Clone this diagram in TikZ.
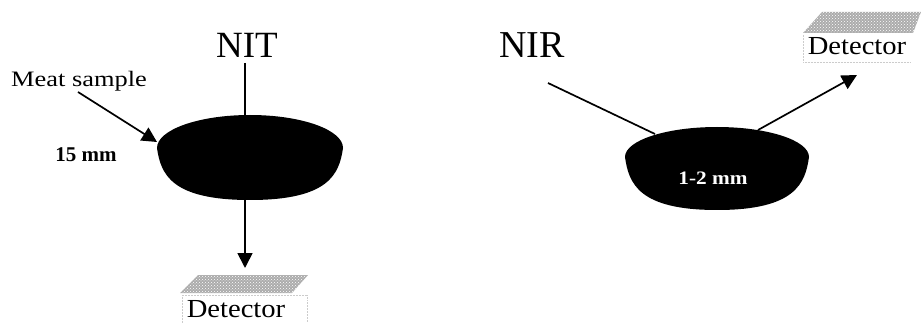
\documentclass[tikz,border=0pt]{standalone}
\usepackage{fontspec}
\setmainfont{Liberation Serif}
\usetikzlibrary{arrows.meta,patterns}

\tikzset{
  beam/.style={line width=1.7pt},
  ray/.style={beam,-{Triangle[length=15pt,width=15pt]}},
  sample/.style={fill=black},
  plate/.style={fill=gray!65, postaction={pattern=crosshatch dots, pattern color=white}},
  txt/.style={inner sep=0pt, anchor=base},
  detlabel/.style={txt, font=\fontsize{26}{26}\selectfont},
  detframe/.style={draw=gray!40, densely dotted, line width=0.5pt},
}

% sample disc: upper half ellipse over a rounded, slightly narrower bottom
% #1 = centre x, #2 = widest-line y, #3 = half width, #4 = top rise, #5 = bottom drop
\newcommand{\sampledisc}[5]{%
  \fill[sample] (#1-#3,#2) arc[start angle=180, end angle=360, x radius=#3, y radius=#4]
    .. controls (#1+0.96*#3,#2+0.5*#5) and (#1+0.85*#3,#2+#5) .. (#1,#2+#5)
    .. controls (#1-0.85*#3,#2+#5) and (#1-0.96*#3,#2+0.5*#5) .. cycle;}

\begin{document}
\begin{tikzpicture}[x=1pt,y=-1pt]
  \useasboundingbox (0,0) rectangle (921,323);

  % ---------- transmission (NIT) ----------
  \node[txt, font=\fontsize{37}{37}\selectfont] (nit) at (247,58) {NIT};
  \node[txt, anchor=base west, font=\fontsize{22}{22}\selectfont] (meat) at (11,87)
       {\scalebox{1.2}[1]{Meat sample}};
  \node[txt, font=\bfseries\fontsize{21}{21}\selectfont] (thick) at (86,162) {15 mm};

  % thick sample disc
  \sampledisc{250}{148}{93}{33}{52}
  \coordinate (discLtop) at (245,115);
  \coordinate (discLbot) at (245,200);
  \coordinate (discLedge) at (157,142);

  % detector below the sample
  \fill[plate] (198,275) -- (308,275) -- (292,293) -- (180,293) -- cycle;
  \node[detlabel] (detL) at (236,317) {\scalebox{1.1}[1]{Detector}};
  \draw[detframe] (182,295) rectangle (307,323);
  \coordinate (detLin) at (245,268);

  \coordinate (nitIn) at (245,63);
  \coordinate (meatTail) at (78,92);
  \draw[beam] (nitIn) -- (discLtop);
  \draw[ray] (discLbot) -- (detLin);
  \draw[ray] (meatTail) -- (discLedge);

  % ---------- reflectance (NIR) ----------
  \node[txt, font=\fontsize{38}{38}\selectfont] (nir) at (532,58) {NIR};

  % thin sample disc
  \sampledisc{717}{157}{92}{30}{53}
  \node[txt, text=white, font=\bfseries\fontsize{19}{19}\selectfont] (thin) at (713,185)
       {\scalebox{1.12}[1]{1-2 mm}};
  \coordinate (discRin) at (655,134);
  \coordinate (discRout) at (758,130);

  % detector above right
  \fill[plate] (822,12) -- (921,12) -- (913,33) -- (803,33) -- cycle;
  \node[detlabel] (detR) at (857,55) {\scalebox{1.1}[1]{Detector}};
  \draw[detframe] (803,35) -- (803,62) -- (910,62);
  \coordinate (detRin) at (857,75);

  \coordinate (nirIn) at (548,83);
  \draw[beam] (nirIn) -- (discRin);
  \draw[ray] (discRout) -- (detRin);
\end{tikzpicture}
\end{document}
